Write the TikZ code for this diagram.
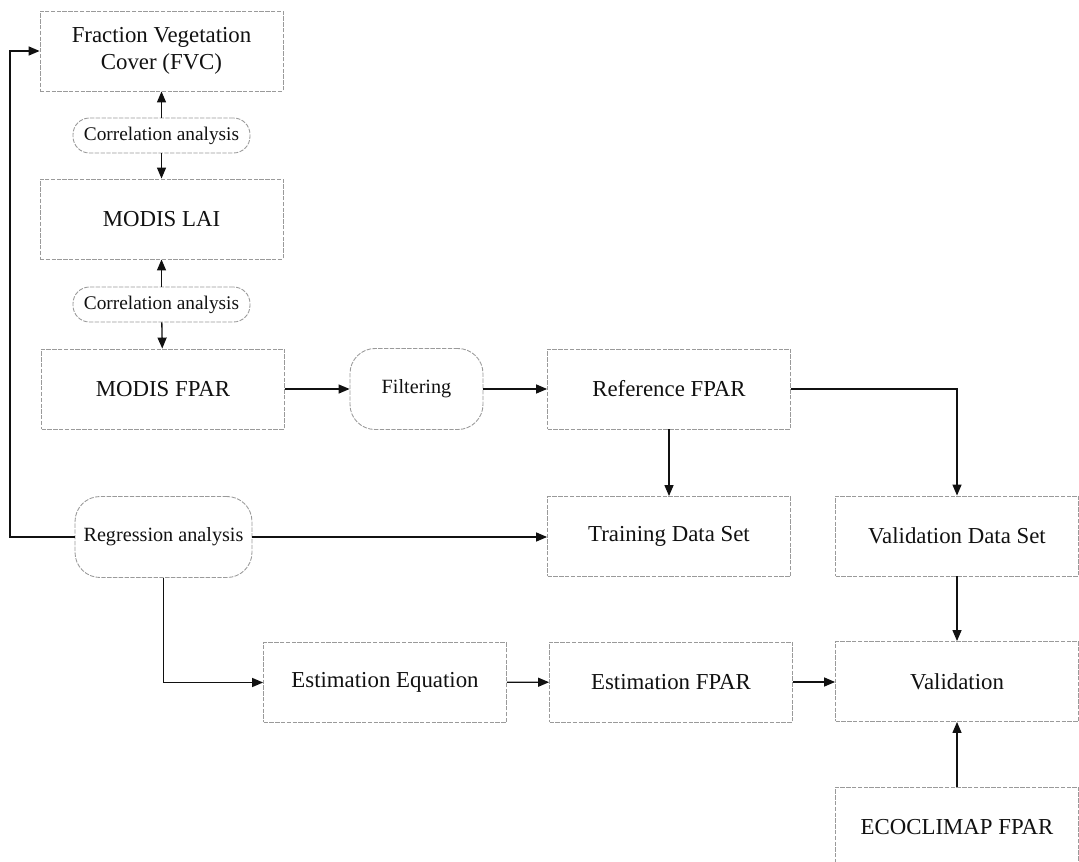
\documentclass[tikz,border=0pt]{standalone}
\usepackage{fontspec}
\setmainfont{Liberation Serif}
\usepackage{xcolor}
\usepackage{tikz}
\usetikzlibrary{arrows.meta,positioning,calc}
\definecolor{ink}{HTML}{111111}
\definecolor{rim}{HTML}{9A9A9A}
\tikzset{
  box/.style={draw=rim,line width=0.5pt,dash pattern=on 2.5pt off 0.8pt,fill=white,align=center,text=ink,
    minimum width=4.86cm,minimum height=1.6cm,inner sep=2pt,font=\fontsize{13}{15.5}\selectfont},
  pill/.style={box,rounded corners=0.33cm,minimum width=3.54cm,minimum height=0.7cm,font=\fontsize{11}{13}\selectfont},
  roundbox/.style={box,rounded corners=0.5cm,minimum height=1.62cm,font=\fontsize{11.5}{14}\selectfont},
  arrow/.style={-{Triangle[length=2.2mm,width=1.8mm]},line width=0.75pt,color=ink},
}

\begin{document}
\begin{tikzpicture}[x=0.02cm,y=-0.02cm]
    \useasboundingbox (0,0) rectangle (1079,862);
    % left column
    \node[box] (fvc) at (161.5,51) {Fraction Vegetation\\Cover (FVC)};
    \node[pill] (corr1) at (161.5,135.5) {Correlation analysis};
    \node[box] (lai) at (161.5,219) {MODIS LAI};
    \node[pill] (corr2) at (161.5,304.5) {Correlation analysis};
    \node[box] (modis) at (163,389) {MODIS FPAR};
    \node[roundbox,minimum width=2.66cm] (filter) at (416.5,389) {Filtering};
    \node[box] (ref) at (669,389) {Reference FPAR};
    \node[roundbox,minimum width=3.54cm] (regr) at (163.5,537) {Regression analysis};
    \node[box] (train) at (669,536.5) {Training Data Set};
    \node[box] (valset) at (957,536) {Validation Data Set};
    \node[box] (esteq) at (385,682.5) {Estimation Equation};
    \node[box] (estfpar) at (671,682) {Estimation FPAR};
    \node[box] (valid) at (957,681.5) {Validation};
    \node[box] (eco) at (957,827) {ECOCLIMAP FPAR};
    \coordinate (bend) at (10,537);

    \draw[arrow] (corr1) -- (fvc);
    \draw[arrow] (corr1) -- (lai);
    \draw[arrow] (corr2) -- (lai);
    \draw[arrow] (corr2) -- (modis);
    \draw[arrow] (modis) -- (filter);
    \draw[arrow] (filter) -- (ref);
    \draw[arrow] (ref.south -| train.north) -- (train);
    \draw[arrow] (ref.east) -| (valset.north);
    \draw[arrow] (regr.east) -- (train.west |- regr.east);
    \draw[arrow] (regr.west) -- (bend) |- (fvc.west);
    \draw[arrow] (regr.south) |- (esteq.west);
    \draw[arrow] (esteq) -- (estfpar);
    \draw[arrow] (estfpar) -- (valid.west |- estfpar);
    \draw[arrow] (valset) -- (valid);
    \draw[arrow] (eco) -- (valid);
  \end{tikzpicture}
\end{document}
